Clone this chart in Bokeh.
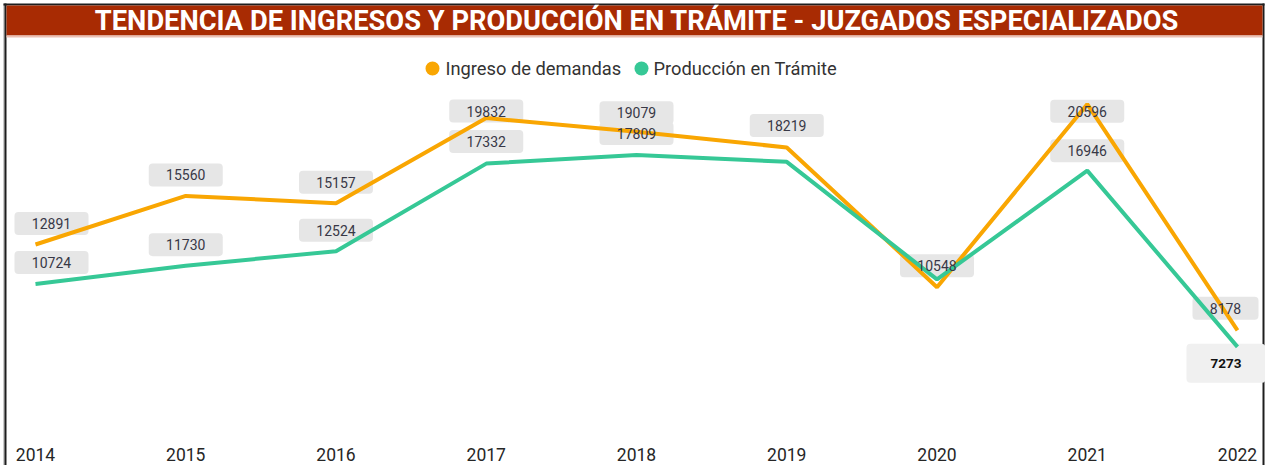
from bokeh.plotting import figure
from bokeh.models import Range1d, LinearAxis, FixedTicker
from bokeh.core.properties import value
from bokeh.embed import file_html
from bokeh.resources import INLINE

# ---------------- data ----------------
years = [2014, 2015, 2016, 2017, 2018, 2019, 2020, 2021, 2022]
tick_labels = ["2014", "2015", "2016", "2017", "2018", "2019", "2020", "2021", "2022"]
ingreso = [12891, 15560, 15157, 19832, 19079, 18219, 10548, 20596, 8178]
produccion = [10724, 11730, 12524, 17332, 17809, 17430, 10980, 16946, 7273]
series_names = ["Ingreso de demandas", "Producción en Trámite"]
title_text = "TENDENCIA DE INGRESOS Y PRODUCCIÓN EN TRÁMITE - JUZGADOS ESPECIALIZADOS"

# which data labels are shown (Power BI hides overlapping ones)
ingreso_label_shown = [True] * 9
produccion_label_shown = [True, True, True, True, True, False, False, True, True]

# ---------------- layout / style ----------------
W, H = 1265, 465
X0_PX, STEP_PX = 35.0, 150.25          # screen x of first category, spacing
Y_LO, Y_HI = 758, 26287                # value range spanning the canvas height
y_per_px = (Y_HI - Y_LO) / H
x_per_px = 1.0 / STEP_PX

ORANGE = "#F9A602"
GREEN = "#36C896"
TITLE_BG = "#A82B03"
FONT_NAME = "Roboto"
FONT = value(FONT_NAME)

# label offsets (screen px) relative to each point
ing_dx = [16, 0, 0, 0, 0, 0, 0, 0, -12]
ing_dy = [-21, -21, -21, -7, -19, -22, -21.5, 7, -22]
pro_dx = [16, 0, 0, 0, 0, 0, 0, 0, -11.5]
pro_dy = [-21.5, -21, -21, -22, -21.5, -21, -21, -20, 16.5]

p = figure(width=W, height=H,
           x_range=Range1d(years[0] - X0_PX / STEP_PX, years[0] + (W - X0_PX) / STEP_PX),
           y_range=Range1d(Y_LO, Y_HI),
           output_backend="svg", toolbar_location=None,
           x_axis_location=None, y_axis_location=None,
           min_border=0, outline_line_color=None,
           background_fill_color="white", border_fill_color="white")
p.grid.visible = False
p.extra_x_ranges = {"px": Range1d(0, W)}
p.extra_y_ranges = {"px": Range1d(H, 0)}
PX = dict(x_range_name="px", y_range_name="px")

# outer frame lines (left / top / right)
p.quad(left=[3], right=[4], top=[3], bottom=[H], fill_color="#9A9A9A", line_color=None, **PX)
p.quad(left=[4], right=[6], top=[3], bottom=[H], fill_color="#1E1E1E", line_color=None, **PX)
p.quad(left=[3], right=[W - 1], top=[3], bottom=[5], fill_color="#1E1E1E", line_color=None, **PX)
p.quad(left=[W - 3], right=[W - 1], top=[3], bottom=[H], fill_color="#1E1E1E", line_color=None, **PX)

# title bar
p.quad(left=[6], right=[W - 3], top=[5], bottom=[35], fill_color=TITLE_BG, line_color=None, **PX)
p.quad(left=[6], right=[W - 3], top=[35], bottom=[37], fill_color="#EBC0B4", line_color=None, **PX)
p.text(x=[636.5], y=[20.5], text=[title_text], text_align="center", text_baseline="middle",
       text_color="white", text_font=FONT, text_font_style="bold", text_font_size="27.3px", **PX)

# legend
p.scatter(x=[432, 641], y=[68, 68], size=14, color=[ORANGE, GREEN], line_color=None, **PX)
p.text(x=[445, 653], y=[68, 68], text=series_names, text_align="left", text_baseline="middle",
       text_color="#333333", text_font=FONT, text_font_size="18.3px", **PX)

# label positions
def label_data(vals, shown, dxs, dys):
    xs, ys, ts = [], [], []
    for yr, v, s, dx, dy in zip(years, vals, shown, dxs, dys):
        if s:
            xs.append(yr + dx * x_per_px)
            ys.append(v - dy * y_per_px)
            ts.append(str(v))
    return xs, ys, ts

ix, iy, it = label_data(ingreso, ingreso_label_shown, ing_dx, ing_dy)
gx, gy, gt = label_data(produccion, produccion_label_shown, pro_dx, pro_dy)

# regular boxes: all but the last green (highlighted) one
bx = ix + gx[:-1]
by = iy + gy[:-1]
bt = it + gt[:-1]
bw = [74] * len(bx)
bw[len(ix) - 1] = 66
p.rect(x=bx, y=by, width=bw, height=23, width_units="screen", height_units="screen",
       fill_color="#E6E6E6", line_color=None, border_radius=4)
p.rect(x=gx[-1:], y=gy[-1:], width=79, height=39, width_units="screen", height_units="screen",
       fill_color="#F0F0F0", line_color=None, border_radius=4)

# lines
p.line(years, ingreso, color=ORANGE, line_width=4)
p.line(years, produccion, color=GREEN, line_width=4)

# label texts
p.text(x=bx, y=by, text=bt, text_align="center", text_baseline="middle",
       text_color="#383846", text_font=FONT, text_font_size="14px")
p.text(x=gx[-1:], y=gy[-1:], text=gt[-1:], text_align="center", text_baseline="middle",
       text_color="#111111", text_font=FONT, text_font_style="bold", text_font_size="13.5px")

# x axis inside the frame
ax = LinearAxis(fixed_location=Y_HI - 446 * y_per_px,
                ticker=FixedTicker(ticks=years),
                major_label_overrides={y: t for y, t in zip(years, tick_labels)},
                axis_line_color=None, major_tick_line_color=None, minor_tick_line_color=None,
                major_tick_out=0, major_tick_in=0, major_label_standoff=1,
                major_label_text_font=FONT_NAME, major_label_text_font_size="17.5px",
                major_label_text_font_style="normal",
                major_label_text_color="#262626")
p.add_layout(ax, "below")

open("out.html", "w").write(file_html(p, INLINE))
